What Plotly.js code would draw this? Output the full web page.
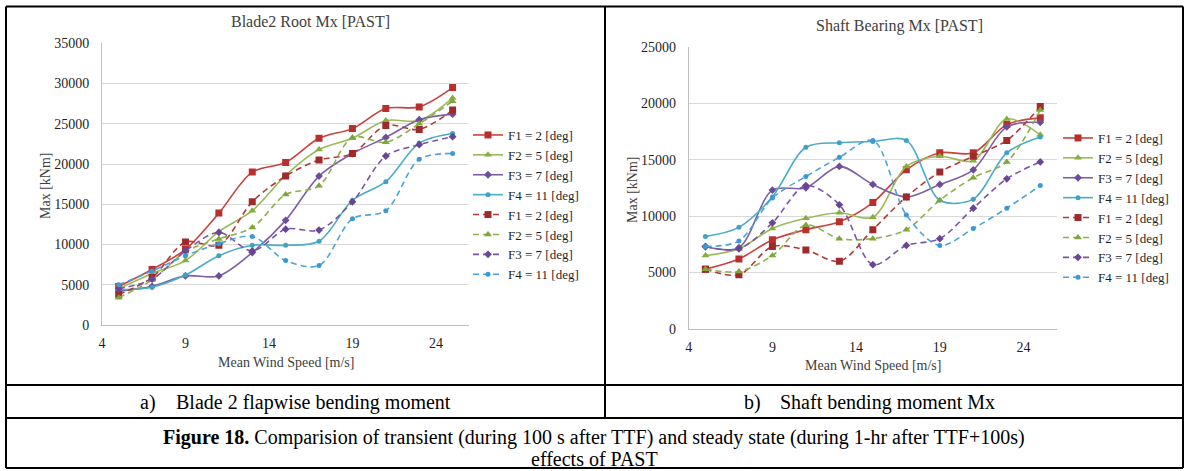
<!DOCTYPE html>
<html>
<head>
<meta charset="utf-8">
<script src="https://cdn.plot.ly/plotly-3.0.1.min.js"></script>
<style>html,body{margin:0;padding:0;background:#fff;}#chart{width:1189px;height:471px;}</style>
</head>
<body>
<div id="chart"></div>
<script>
// ---- data ----
const windSpeed = [5, 7, 9, 11, 13, 15, 17, 19, 21, 23, 25];
const seriesNames = ["F1 = 2 [deg]", "F2 = 5 [deg]", "F3 = 7 [deg]", "F4 = 11 [deg]"];

// Blade2 Root Mx [PAST] (kNm) - transient (solid) and steady state (dashed)
const bladeF1 = [4800, 6900, 9400, 13900, 19000, 20200, 23200, 24400, 26900, 27100, 29500];
const bladeF2 = [4500, 6400, 8000, 11600, 14200, 18600, 21800, 23200, 25400, 25400, 28200];
const bladeF3 = [4200, 4800, 6100, 6100, 9000, 13000, 18500, 21300, 23300, 25500, 26200];
const bladeF4 = [4400, 4700, 6200, 8600, 9900, 9900, 10400, 15500, 17800, 22600, 23800];
const bladeF1s = [3800, 5900, 10300, 9900, 15300, 18500, 20500, 21300, 24800, 24300, 26700];
const bladeF2s = [3400, 5600, 9100, 10700, 12100, 16200, 17300, 23300, 22700, 25000, 27800];
const bladeF3s = [4500, 5700, 9200, 11500, 9200, 11900, 11800, 15300, 21000, 22400, 23400];
const bladeF4s = [5000, 6700, 8600, 10100, 11000, 8000, 7400, 13200, 14200, 20600, 21300];

// Shaft Bearing Mx [PAST] (kNm)
const shaftF1 = [5300, 6200, 7900, 8800, 9500, 11200, 14100, 15600, 15600, 18100, 18700];
const shaftF2 = [6500, 7100, 8900, 9800, 10300, 9900, 14400, 15300, 14900, 18600, 17200];
const shaftF3 = [7300, 7200, 12300, 12500, 14400, 12800, 11700, 12800, 14100, 17900, 18300];
const shaftF4 = [8200, 9000, 11700, 16100, 16500, 16600, 16700, 11400, 11500, 15600, 17000];
const shaftF1s = [5300, 4800, 7300, 7000, 6000, 8800, 11700, 13900, 15300, 16700, 19700];
const shaftF2s = [5300, 5100, 6500, 9200, 8000, 8000, 8800, 11400, 13400, 14800, 19400];
const shaftF3s = [7300, 7100, 9400, 12700, 11000, 5700, 7400, 8000, 10700, 13300, 14800];
const shaftF4s = [7300, 7800, 11600, 13500, 15200, 16700, 10100, 7400, 8900, 10700, 12700];

const xTicks = [4, 9, 14, 19, 24];
const bladeYTicks = [0, 5000, 10000, 15000, 20000, 25000, 30000, 35000];
const shaftYTicks = [0, 5000, 10000, 15000, 20000, 25000];

// ---- styling ----
const W = 1189, H = 471;
const px = x => x / W;
const py = y => 1 - y / H;
const FONT = "Liberation Serif, Times New Roman, serif";

const solidStyles = [
  {line: "#C8423F", marker: "#B8302E", symbol: "square", size: 7},
  {line: "#9BBB59", marker: "#86AE3C", symbol: "triangle-up", size: 7},
  {line: "#7F5FA8", marker: "#6C4D98", symbol: "diamond", size: 6},
  {line: "#4BACC6", marker: "#3FA3C0", symbol: "circle", size: 5}
];
const dashStyles = [
  {line: "#B23A38", marker: "#9E2B2B", symbol: "square", size: 7},
  {line: "#8DB04A", marker: "#7FA63A", symbol: "triangle-up", size: 7},
  {line: "#7A55A5", marker: "#6A4596", symbol: "diamond", size: 6},
  {line: "#4CA3D9", marker: "#3C98D6", symbol: "circle", size: 5}
];

function mk(y, idx, dashed, xa, ya, leg) {
  const s = dashed ? dashStyles[idx] : solidStyles[idx];
  return {
    type: "scatter", mode: "lines+markers",
    x: windSpeed, y: y, name: seriesNames[idx],
    xaxis: xa, yaxis: ya, legend: leg,
    line: {color: s.line, width: 1.6, shape: "spline", smoothing: 0.9, dash: dashed ? "6px,4px" : "solid"},
    marker: {color: s.marker, symbol: s.symbol, size: s.size, line: {width: 0}}
  };
}

const traces = [
  mk(bladeF1, 0, false, "x", "y", "legend"),
  mk(bladeF2, 1, false, "x", "y", "legend"),
  mk(bladeF3, 2, false, "x", "y", "legend"),
  mk(bladeF4, 3, false, "x", "y", "legend"),
  mk(bladeF1s, 0, true, "x", "y", "legend"),
  mk(bladeF2s, 1, true, "x", "y", "legend"),
  mk(bladeF3s, 2, true, "x", "y", "legend"),
  mk(bladeF4s, 3, true, "x", "y", "legend"),
  mk(shaftF1, 0, false, "x2", "y2", "legend2"),
  mk(shaftF2, 1, false, "x2", "y2", "legend2"),
  mk(shaftF3, 2, false, "x2", "y2", "legend2"),
  mk(shaftF4, 3, false, "x2", "y2", "legend2"),
  mk(shaftF1s, 0, true, "x2", "y2", "legend2"),
  mk(shaftF2s, 1, true, "x2", "y2", "legend2"),
  mk(shaftF3s, 2, true, "x2", "y2", "legend2"),
  mk(shaftF4s, 3, true, "x2", "y2", "legend2")
];

const tickFont = {family: FONT, size: 14, color: "#1f1f1f"};
function xAxis(domain, anchor) {
  return {
    domain: domain, anchor: anchor, range: [4, 26], tickvals: xTicks, ticktext: xTicks.map(String),
    showgrid: false, zeroline: false, showline: true, linecolor: "#BFBFBF", linewidth: 1,
    ticks: "", tickfont: tickFont, ticklabelstandoff: 5, fixedrange: true
  };
}
function yAxis(domain, anchor, max, ticks) {
  return {
    domain: domain, anchor: anchor, range: [0, max], tickvals: ticks, ticktext: ticks.map(String),
    showgrid: true, gridcolor: "#D9D9D9", gridwidth: 1, zeroline: false,
    showline: true, linecolor: "#BFBFBF", linewidth: 1,
    ticks: "", tickfont: tickFont, ticklabelstandoff: 9, fixedrange: true
  };
}

const legendFont = {family: FONT, size: 13, color: "#1f1f1f"};

const borders = [
  // outer frame
  {x0: 6, y0: 6.5, x1: 1183, y1: 6.5},
  {x0: 6, y0: 6.5, x1: 6, y1: 468},
  {x0: 1183, y0: 6.5, x1: 1183, y1: 468},
  {x0: 6, y0: 468, x1: 1183, y1: 468},
  // row lines
  {x0: 6, y0: 385, x1: 1183, y1: 385},
  {x0: 6, y0: 418, x1: 1183, y1: 418},
  // column divider
  {x0: 605, y0: 6.5, x1: 605, y1: 418}
].map(b => ({type: "line", xref: "paper", yref: "paper", x0: px(b.x0), x1: px(b.x1), y0: py(b.y0), y1: py(b.y1), line: {color: "#000", width: 2}}));

function ann(text, x, y, opts) {
  return Object.assign({xref: "paper", yref: "paper", x: px(x), y: py(y), text: text, showarrow: false,
    xanchor: "center", yanchor: "middle", font: {family: FONT, size: 12, color: "#262626"}}, opts || {});
}

const capFont = {family: FONT, size: 20, color: "#000"};
const annotations = [
  ann("Blade2 Root Mx [PAST]", 310, 22, {font: {family: FONT, size: 16, color: "#404040"}}),
  ann("Shaft Bearing Mx [PAST]", 899, 26, {font: {family: FONT, size: 16, color: "#404040"}}),
  ann("Mean Wind Speed [m/s]", 286, 362, {font: {family: FONT, size: 14, color: "#404040"}}),
  ann("Mean Wind Speed [m/s]", 873, 365, {font: {family: FONT, size: 14, color: "#404040"}}),
  ann("Max [kNm]", 45, 185, {textangle: -90, font: {family: FONT, size: 14, color: "#404040"}}),
  ann("Max [kNm]", 632, 190, {textangle: -90, font: {family: FONT, size: 14, color: "#404040"}}),
  ann("a)", 138, 402, {xanchor: "left", font: capFont}),
  ann("Blade 2 flapwise bending moment", 174, 402, {xanchor: "left", font: capFont}),
  ann("b)", 742, 402, {xanchor: "left", font: capFont}),
  ann("Shaft bending moment Mx", 778, 402, {xanchor: "left", font: capFont}),
  ann("<b>Figure 18.</b> Comparision of transient (during 100 s after TTF) and steady state (during 1-hr after TTF+100s)", 594, 437, {font: capFont}),
  ann("effects of PAST", 594, 459, {font: capFont})
];

const layout = {
  width: W, height: H,
  margin: {l: 0, r: 0, t: 0, b: 0, pad: 0},
  paper_bgcolor: "#fff", plot_bgcolor: "#fff",
  showlegend: true,
  xaxis: xAxis([px(102), px(469.3)], "y"),
  yaxis: yAxis([py(325), py(43.3)], "x", 35000, bladeYTicks),
  xaxis2: xAxis([px(688.7), px(1057)], "y2"),
  yaxis2: yAxis([py(329), py(46.7)], "x2", 25000, shaftYTicks),
  legend: {x: px(468), y: py(120), xanchor: "left", yanchor: "top", bgcolor: "rgba(0,0,0,0)",
    font: legendFont, tracegroupgap: 0, itemwidth: 30},
  legend2: {x: px(1058), y: py(123), xanchor: "left", yanchor: "top", bgcolor: "rgba(0,0,0,0)",
    font: legendFont, tracegroupgap: 0, itemwidth: 30},
  shapes: borders,
  annotations: annotations
};

Plotly.newPlot("chart", traces, layout, {displayModeBar: false, staticPlot: true});
</script>
</body>
</html>
